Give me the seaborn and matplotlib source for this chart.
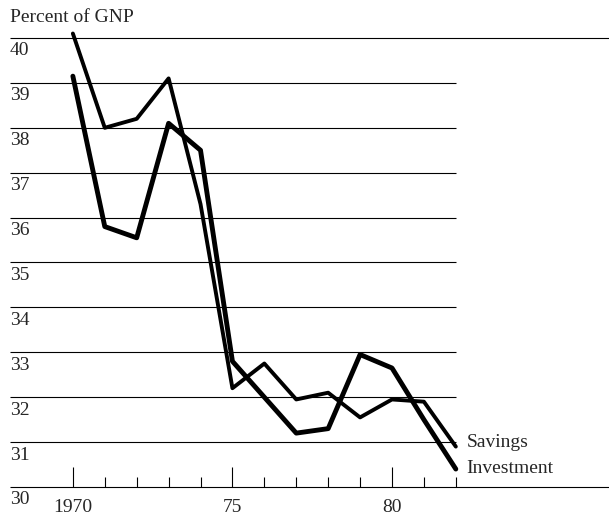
import matplotlib
matplotlib.use('Agg')
import matplotlib.pyplot as plt
import matplotlib.transforms as mtransforms
import seaborn as sns
import pandas as pd

# data
years = list(range(1970, 1983))
savings = [40.1, 38.0, 38.2, 39.1, 36.3, 32.2, 32.75, 31.95, 32.1, 31.55, 31.95, 31.9, 30.9]
investment = [39.15, 35.8, 35.55, 38.1, 37.5, 32.8, 32.0, 31.2, 31.3, 32.95, 32.65, 31.5, 30.4]
series_names = ['Savings', 'Investment']
y_levels = [30, 31, 32, 33, 34, 35, 36, 37, 38, 39, 40]
major_years = [1970, 1975, 1980]
major_labels = ['1970', '75', '80']
minor_years = [1971, 1972, 1973, 1974, 1976, 1977, 1978, 1979, 1981, 1982]

sns.set_theme(style='white')
plt.rcParams['font.family'] = ['Liberation Serif', 'DejaVu Serif']
fs = 14

data = pd.DataFrame({'year': years, 'Savings': savings, 'Investment': investment})

fig = plt.figure(figsize=(6.09, 5.17), dpi=100)
ax = fig.add_axes([10 / 609, 30 / 517, 599 / 609, 449 / 517])
ax.set_xlim(1968.03, 1986.8)
ax.set_ylim(30, 40)

# grid lines: short ones stop at the end of the data, top and bottom run across
x0 = ax.get_xlim()[0]
ax.hlines(y_levels[1:-1], x0, years[-1], color='black', lw=0.8, zorder=1)
ax.hlines([y_levels[0], y_levels[-1]], x0, ax.get_xlim()[1], color='black', lw=0.8, zorder=1,
          clip_on=False)

sns.lineplot(data=data, x='year', y='Savings', ax=ax, color='black', lw=2.8,
             clip_on=False, zorder=3)
sns.lineplot(data=data, x='year', y='Investment', ax=ax, color='black', lw=3.5,
             clip_on=False, zorder=3)

for sp in ax.spines.values():
    sp.set_visible(False)

ax.set_xticks(major_years)
ax.set_xticklabels(major_labels, fontsize=fs)
ax.set_xticks(minor_years, minor=True)
ax.tick_params(axis='x', which='major', direction='in', length=14.5, width=0.8,
               color='black', pad=9, bottom=True)
ax.tick_params(axis='x', which='minor', direction='in', length=7.2, width=0.8,
               color='black', bottom=True)
ax.set_yticks([])
ax.set_xlabel('')
ax.set_ylabel('')

# y labels sit just under each grid line at the left edge
trans = mtransforms.blended_transform_factory(ax.transAxes, ax.transData)
for v in y_levels:
    ax.text(0.0, v - 0.1, str(v), transform=trans, ha='left', va='top', fontsize=fs)

ax.text(0.0, 40.36, 'Percent of GNP', transform=trans, ha='left', va='baseline', fontsize=fs)

# series labels at the line ends
ax.text(years[-1] + 0.34, 31.0, series_names[0], ha='left', va='center', fontsize=fs)
ax.text(years[-1] + 0.32, 30.42, series_names[1], ha='left', va='center', fontsize=fs)

fig.savefig('out.png', dpi=100)
